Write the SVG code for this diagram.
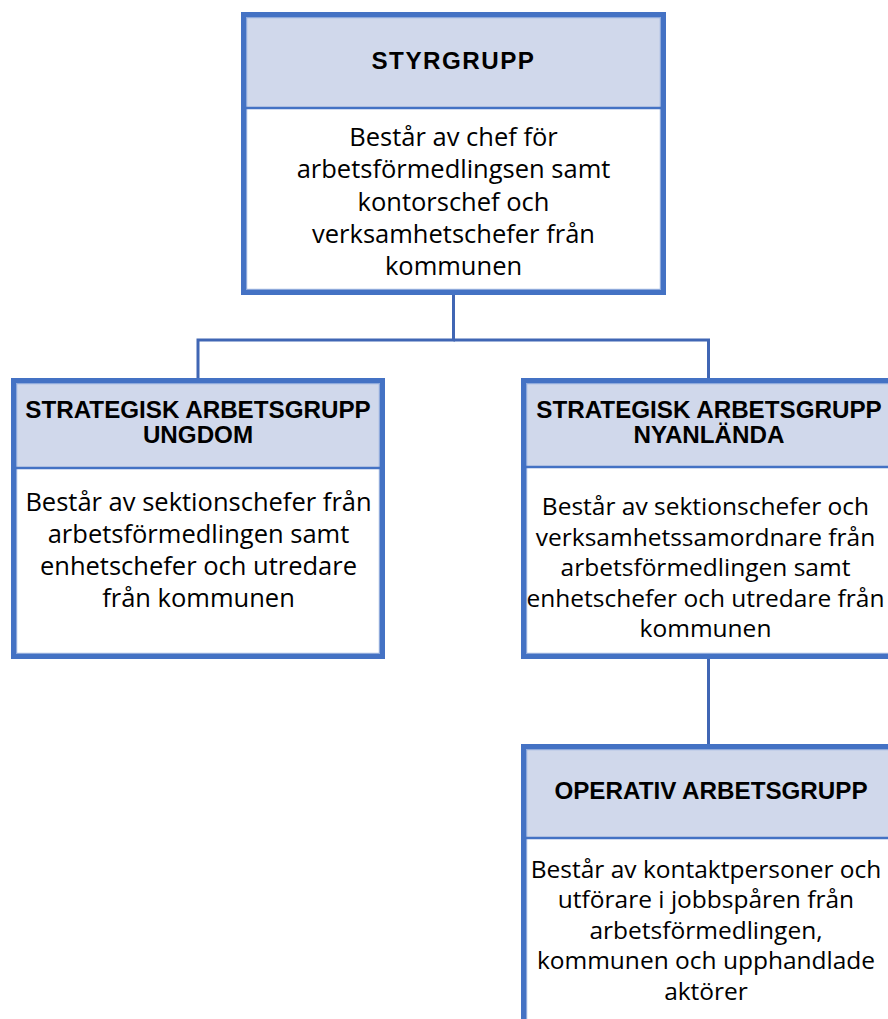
<svg xmlns="http://www.w3.org/2000/svg" width="888" height="1019" viewBox="0 0 888 1019">
  <style>
    .box { fill: #ffffff; stroke: #4472C4; stroke-width: 5; }
    .inner { fill: none; stroke: #8EA9DB; stroke-width: 1.2; }
    .hdr { fill: #D0D8EB; }
    .div { stroke: #4472C4; stroke-width: 2.5; }
    .conn { fill: none; stroke: #4066B4; stroke-width: 3; }
    .h { font-family: "Liberation Sans", Arial, sans-serif; font-weight: bold; font-size: 24.2px; fill: #000; text-anchor: middle; }
    .b { font-family: "Open Sans", "Noto Sans", sans-serif; font-size: 25.5px; fill: #000; text-anchor: middle; }
    .s { font-size: 24.5px; }
  </style>

  <g id="connectors">
    <polyline class="conn" points="453.5,294 453.5,340 198,340 198,379"/>
    <polyline class="conn" points="453.5,340 708.5,340 708.5,379"/>
    <line class="conn" x1="708.5" y1="658" x2="708.5" y2="745"/>
  </g>

  <g id="styrgrupp">
    <rect class="box" x="243.5" y="14.5" width="420" height="278"/>
    <rect class="hdr" x="246" y="17" width="415" height="91"/>
    <rect class="inner" x="246.6" y="17.6" width="413.8" height="271.8"/>
    <line class="div" x1="246" y1="108" x2="661" y2="108"/>
    <text class="h" x="453.5" y="69" letter-spacing="1.5">STYRGRUPP</text>
    <text class="b" x="453.5" y="146">Består av chef för</text>
    <text class="b" x="453.5" y="178.3">arbetsförmedlingsen samt</text>
    <text class="b" x="453.5" y="210.6">kontorschef och</text>
    <text class="b" x="453.5" y="242.9">verksamhetschefer från</text>
    <text class="b" x="453.5" y="275.2">kommunen</text>
  </g>

  <g id="strategisk-ungdom">
    <rect class="box" x="13.5" y="380.5" width="369" height="276"/>
    <rect class="hdr" x="16" y="383" width="364" height="85"/>
    <rect class="inner" x="16.6" y="383.6" width="362.8" height="269.8"/>
    <line class="div" x1="16" y1="468" x2="380" y2="468"/>
    <text class="h" x="198" y="417.8">STRATEGISK ARBETSGRUPP</text>
    <text class="h" x="198" y="443.4">UNGDOM</text>
    <text class="b" x="198.5" y="510.7">Består av sektionschefer från</text>
    <text class="b" x="198.5" y="542.8">arbetsförmedlingen samt</text>
    <text class="b" x="198.5" y="574.9">enhetschefer och utredare</text>
    <text class="b" x="198.5" y="607">från kommunen</text>
  </g>

  <g id="strategisk-nyanlanda">
    <rect class="box" x="523.5" y="380.5" width="369" height="276"/>
    <rect class="hdr" x="526" y="383" width="364" height="84"/>
    <rect class="inner" x="526.6" y="383.6" width="362.8" height="269.8"/>
    <line class="div" x1="526" y1="467" x2="890" y2="467"/>
    <text class="h" x="709" y="417.8">STRATEGISK ARBETSGRUPP</text>
    <text class="h" x="709" y="443.4">NYANLÄNDA</text>
    <text class="b s" x="705.5" y="515">Består av sektionschefer och</text>
    <text class="b s" x="705.5" y="545.5">verksamhetssamordnare från</text>
    <text class="b s" x="705.5" y="576">arbetsförmedlingen samt</text>
    <text class="b s" x="705.5" y="606.5">enhetschefer och utredare från</text>
    <text class="b s" x="705.5" y="637">kommunen</text>
  </g>

  <g id="operativ">
    <rect class="box" x="523.5" y="746.5" width="369" height="300"/>
    <rect class="hdr" x="526" y="749" width="364" height="89"/>
    <rect class="inner" x="526.6" y="749.6" width="362.8" height="293.8"/>
    <line class="div" x1="526" y1="838" x2="890" y2="838"/>
    <text class="h" x="711" y="799">OPERATIV ARBETSGRUPP</text>
    <text class="b s" x="706" y="877.7">Består av kontaktpersoner och</text>
    <text class="b s" x="706" y="908.2">utförare i jobbspåren från</text>
    <text class="b s" x="706" y="938.7">arbetsförmedlingen,</text>
    <text class="b s" x="706" y="969.2">kommunen och upphandlade</text>
    <text class="b s" x="706" y="999.7">aktörer</text>
  </g>
</svg>
